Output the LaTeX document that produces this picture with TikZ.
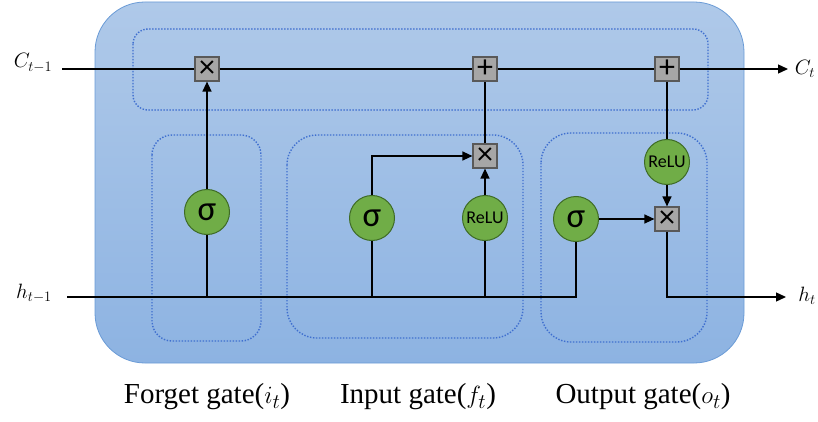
\documentclass[tikz,border=0pt]{standalone}
\usepackage{fontspec}
\setmainfont{Liberation Serif}
\newfontfamily\calib{Carlito}
\usetikzlibrary{arrows.meta}
\definecolor{bgtop}{HTML}{AFC9E9}
\definecolor{bgbot}{HTML}{8DB3E2}
\definecolor{bgedge}{HTML}{6A9BD6}
\definecolor{dotc}{HTML}{3F6FCF}
\definecolor{circfill}{HTML}{70AD47}
\definecolor{circedge}{HTML}{3E6B25}
\definecolor{boxfill}{HTML}{A6A6A6}
\definecolor{boxedge}{HTML}{595959}
\begin{document}
\begin{tikzpicture}[x=1pt,y=-1pt,
  dotbox/.style={draw=dotc, line width=1.4pt, dash pattern=on 1.4pt off 1.6pt},
  opbox/.style={draw=boxedge, fill=boxfill, line width=1.2pt, minimum size=24pt, inner sep=0pt, font=\calib\fontsize{32}{32}\selectfont},
  gatec/.style={circle, draw=circedge, fill=circfill, line width=1pt, minimum size=45pt, inner sep=0pt},
  sig/.style={gatec, font=\calib\fontsize{35}{35}\selectfont},
  relu/.style={gatec, font=\calib\fontsize{18}{18}\selectfont},
  conn/.style={draw=black, line width=1.3pt},
  arr/.style={conn, -{Triangle[length=10pt,width=9pt]}},
  lbl/.style={font=\fontsize{22}{22}\selectfont},
  gatelabel/.style={font=\fontsize{29}{29}\selectfont}
]
\useasboundingbox (0,0) rectangle (818,422);
\shade[top color=bgtop, bottom color=bgbot, rounded corners=50pt] (95,2) rectangle (744,363);
\draw[bgedge, line width=0.8pt, rounded corners=50pt] (95,2) rectangle (744,363);

\draw[dotbox, rounded corners=15pt] (133,29) rectangle (708,110);
\draw[dotbox, rounded corners=20pt] (152,135) rectangle (261,341);
\draw[dotbox, rounded corners=30pt] (287,135) rectangle (523,338);
\draw[dotbox, rounded corners=30pt] (541,133) rectangle (707,342);

\coordinate (cin) at (62,69);
\coordinate (cout) at (788,69);
\coordinate (hin) at (67,297);
\coordinate (hout) at (786,297);

\node[opbox] (m1) at (207,69) {×};
\node[opbox] (a2) at (485,69) {+};
\node[opbox] (a3) at (667,69) {+};
\node[opbox] (m2) at (485,156) {×};
\node[opbox] (m3) at (667,219) {×};

\node[sig] (s1) at (207,212) {σ};
\node[sig] (s2) at (372,218) {σ};
\node[relu] (r2) at (485,218) {ReLU};
\node[sig] (s3) at (576,219) {σ};
\node[relu] (r3) at (667,162) {ReLU};

\draw[conn] (cin) -- (m1) -- (a2) -- (a3);
\draw[arr] (a3) -- (cout);
\draw[conn] (hin) -| (s3);
\draw[conn] (s1) -- (s1 |- hin);
\draw[conn] (s2) -- (s2 |- hin);
\draw[conn] (r2) -- (r2 |- hin);
\draw[arr] (s1) -- (m1);
\draw[arr] (s2) |- (m2);
\draw[arr] (r2) -- (m2);
\draw[conn] (m2) -- (a2);
\draw[conn] (a3) -- (r3);
\draw[arr] (r3) -- (m3);
\draw[arr] (s3) -- (m3);
\draw[arr] (m3) |- (hout);

\node[lbl] (lc0) at (33,63) {$C_{t-1}$};
\node[lbl] (lc1) at (805,69) {$C_t$};
\node[lbl] (lh0) at (34,293) {$h_{t-1}$};
\node[lbl] (lh1) at (807,296) {$h_t$};

\node[gatelabel] (g1) at (207,397) {Forget gate($i_t$)};
\node[gatelabel] (g2) at (418,397) {Input gate($f_t$)};
\node[gatelabel] (g3) at (643,397) {Output gate($o_t$)};
\end{tikzpicture}
\end{document}
